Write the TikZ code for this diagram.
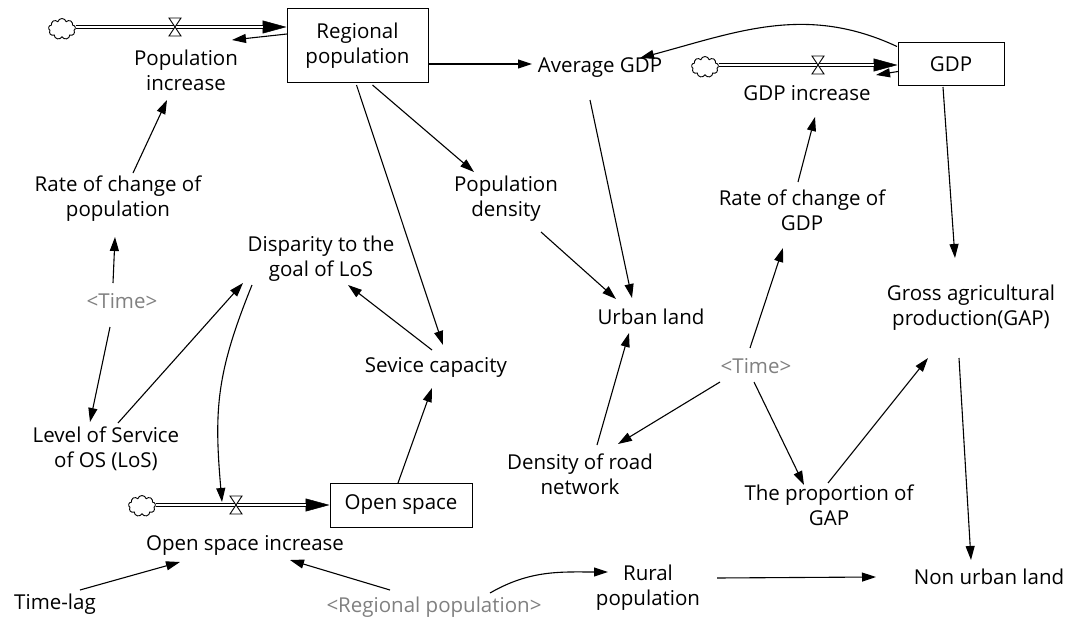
\documentclass[tikz,border=0pt]{standalone}
\usepackage{fontspec}
\setmainfont{Open Sans}
\usepackage{xcolor}
\usetikzlibrary{arrows.meta,shapes.symbols}
\definecolor{shadowgray}{RGB}{128,128,128}

\begin{document}
\begin{tikzpicture}[x=1pt, y=-1pt,
    every node/.style={align=center, font=\fontsize{20.5}{25}\selectfont, inner sep=2pt},
    stock/.style={rectangle, draw, line width=1pt},
    shadowvar/.style={text=shadowgray},
    source/.style={cloud, cloud puffs=9, aspect=1.3, draw, line width=0.9pt, minimum width=27pt, minimum height=21pt, inner sep=0pt},
    arrow/.style={line width=1.1pt, -{Triangle[length=14pt,width=9pt]}},
    pipe/.style={double, double distance=2.6pt, line width=1pt},
    flowhead/.style={line width=0.5pt, -{Triangle[length=24pt,width=13pt]}},
    valve/.pic={\draw[fill=white, line width=0.9pt] (-6,-9) -- (6,-9) -- (-6,9) -- (6,9) -- cycle;}
]
\useasboundingbox (0,0) rectangle (1069,626);

% Stocks
\node[stock, minimum width=141pt, minimum height=74pt] (regpop) at (357.5,46) {Regional\\population};
\node[stock, minimum width=106pt, minimum height=43pt] (gdp) at (951,64.5) {GDP};
\node[stock, minimum width=142pt, minimum height=44pt] (openspace) at (401,505) {Open space};

% Clouds and valves
\node[source] (cloud1) at (62,29) {};
\node[source] (cloud2) at (705,67) {};
\node[source] (cloud3) at (142,506) {};
\coordinate (valve1) at (175,27);
\coordinate (valve2) at (818,65);
\coordinate (valve3) at (236,505);

% Variables
\node (popinc) at (186,70) {Population\\increase};
\node (poprate) at (118,199) {Rate of change of\\population};
\node[shadowvar] (time1) at (122,301) {<Time>};
\node (los) at (106,449) {Level of Service\\of OS (LoS)};
\node (disparity) at (321,259) {Disparity to the\\goal of LoS};
\node (sevice) at (436,367) {Sevice capacity};
\node (openinc) at (245,545) {Open space increase};
\node (timelag) at (55,604) {Time-lag};
\node[shadowvar] (regpop2) at (434,607) {<Regional population>};
\node (avggdp) at (600,68) {Average GDP};
\node (popdens) at (506,199) {Population\\density};
\node (urban) at (651,317) {Urban land};
\node (road) at (580,474) {Density of road\\network};
\node (rural) at (648,588) {Rural\\population};
\node (gdpinc) at (807,93) {GDP increase};
\node (rategdp) at (802,210) {Rate of change of\\GDP};
\node[shadowvar] (time2) at (756,366) {<Time>};
\node (prop) at (829,505) {The proportion of\\GAP};
\node (gap) at (971,308) {Gross agricultural\\production(GAP)};
\node (nonurban) at (989,577) {Non urban land};

% Flows
\draw[flowhead] (valve1) -- (valve1 -| regpop.west);
\draw[pipe, shorten >=24pt] (cloud1.east |- valve1) -- (valve1 -| regpop.west);
\pic at (valve1) {valve};
\draw[flowhead] (valve2) -- (valve2 -| gdp.west);
\draw[pipe, shorten >=24pt] (cloud2.east |- valve2) -- (valve2 -| gdp.west);
\pic at (valve2) {valve};
\draw[flowhead] (valve3) -- (valve3 -| openspace.west);
\draw[pipe, shorten >=24pt] (cloud3.east |- valve3) -- (valve3 -| openspace.west);
\pic at (valve3) {valve};

% Links
\draw[arrow] ([shift={(-70.5,-12)}]regpop.center) -- ([shift={(46,-30)}]popinc.center);
\draw[arrow] ([shift={(-53,7)}]gdp.center) -- ([shift={(69,-18)}]gdpinc.center);
\draw[arrow] ([shift={(15,-26)}]poprate.center) -- ([shift={(-19,30)}]popinc.center);
\draw[arrow] ([shift={(-9,-18)}]time1.center) -- ([shift={(-3,38)}]poprate.center);
\draw[arrow] ([shift={(-12,26)}]time1.center) -- ([shift={(-16,-27)}]los.center);
\draw[arrow] ([shift={(12,-26)}]los.center) -- ([shift={(-78,24)}]disparity.center);
\draw[arrow] ([shift={(-4,-17)}]sevice.center) -- ([shift={(27,26)}]disparity.center);
\draw[arrow] ([shift={(-1,39)}]regpop.center) -- ([shift={(7,-22)}]sevice.center);
\draw[arrow] ([shift={(15,39)}]regpop.center) -- ([shift={(-32,-27)}]popdens.center);
\draw[arrow] ([shift={(70.5,18)}]regpop.center) -- ([shift={(-68,-4)}]avggdp.center);
\draw[arrow] ([shift={(-10,32)}]avggdp.center) -- ([shift={(-19,-19)}]urban.center);
\draw[arrow] ([shift={(35,33)}]popdens.center) -- ([shift={(-35,-18)}]urban.center);
\draw[arrow] ([shift={(17,-29)}]road.center) -- ([shift={(-22,16)}]urban.center);
\draw[arrow] ([shift={(-36,16)}]time2.center) -- ([shift={(38,-30)}]road.center);
\draw[arrow] ([shift={(-6,-18)}]time2.center) -- ([shift={(-19,38)}]rategdp.center);
\draw[arrow] ([shift={(-2,16)}]time2.center) -- ([shift={(-25,-20)}]prop.center);
\draw[arrow] ([shift={(-1,-22)}]prop.center) -- ([shift={(-43,50)}]gap.center);
\draw[arrow] ([shift={(-12,50)}]gap.center) -- ([shift={(-18,-17)}]nonurban.center);
\draw[arrow] ([shift={(-8,22.5)}]gdp.center) -- ([shift={(-16,-50)}]gap.center);
\draw[arrow] ([shift={(-4,-28)}]rategdp.center) -- ([shift={(8,24)}]gdpinc.center);
\draw[arrow] ([shift={(69,-10)}]rural.center) -- ([shift={(-113,0)}]nonurban.center);
\draw[arrow] ([shift={(56,-14)}]regpop2.center) to[out=30,in=180] ([shift={(-40,-16)}]rural.center);
\draw[arrow] ([shift={(-44,-17)}]regpop2.center) -- ([shift={(45,15)}]openinc.center);
\draw[arrow] ([shift={(25,-14)}]timelag.center) -- ([shift={(-65,17)}]openinc.center);
\draw[arrow] ([shift={(-3,-22)}]openspace.center) -- ([shift={(-4,21)}]sevice.center);
\draw[arrow] ([shift={(-69,26)}]disparity.center) to[out=-112,in=95,looseness=1.1] ([shift={(-14,-3)}]valve3);
\draw[arrow] ([shift={(-54,-18)}]gdp.center) to[out=155,in=15] ([shift={(40,-10)}]avggdp.center);

\end{tikzpicture}
\end{document}
